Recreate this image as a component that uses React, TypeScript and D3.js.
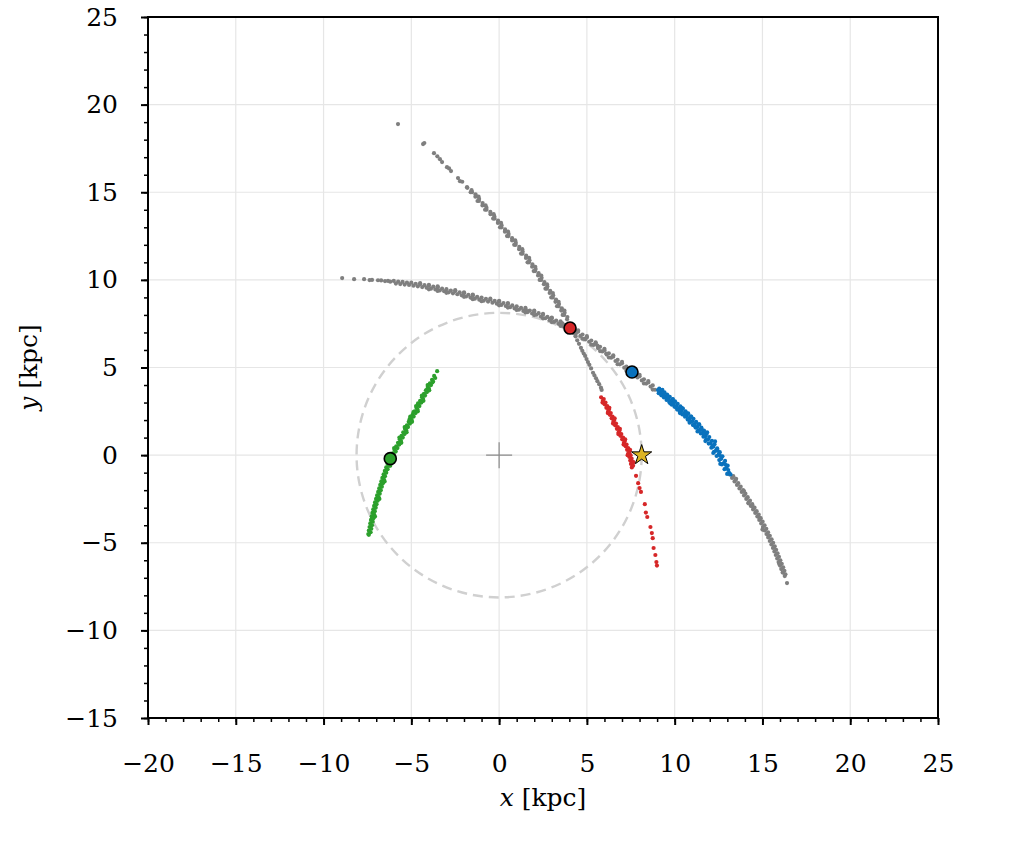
import { useEffect, useRef } from "react"
import * as d3 from "d3"

type Pt = [number, number]

// axes
const xDomain: [number, number] = [-20, 25]
const yDomain: [number, number] = [-15, 25]
const xTicks = [-20, -15, -10, -5, 0, 5, 10, 15, 20, 25]
const yTicks = [-15, -10, -5, 0, 5, 10, 15, 20, 25]

// reference points (kpc)
const solarRadius = 8.12
const sunPos: Pt = [8.12, 0]
const galCenter: Pt = [0, 0]
const redProgenitor: Pt = [4.04, 7.25]
const blueProgenitor: Pt = [7.57, 4.74]
const greenProgenitor: Pt = [-6.2, -0.2]

// long grey arc (leading part coloured blue below)
const greyStreamA: Pt[] = [
  [-8.94, 10.1], [-8.26, 10.04], [-7.69, 10.04], [-7.38, 9.99], [-7.24, 10.0], [-6.9, 9.98], [-6.72, 9.97],
  [-6.5, 9.93], [-6.33, 9.94], [-6.2, 9.9],
  [-6.0, 9.94], [-5.75, 9.9], [-5.5, 9.89], [-5.25, 9.85], [-5.0, 9.84], [-4.75, 9.78], [-4.5, 9.76],
  [-4.25, 9.7], [-4.0, 9.67], [-3.75, 9.61], [-3.5, 9.58], [-3.25, 9.5], [-3.0, 9.47], [-2.75, 9.39],
  [-2.5, 9.36], [-2.25, 9.29], [-2.0, 9.24], [-1.75, 9.15], [-1.5, 9.11], [-1.25, 9.03], [-1.0, 8.99],
  [-0.75, 8.92], [-0.5, 8.88], [-0.25, 8.8], [0.0, 8.76], [0.25, 8.68], [0.5, 8.63], [0.75, 8.54],
  [1.0, 8.49], [1.25, 8.4], [1.5, 8.35], [1.75, 8.25], [2.0, 8.2], [2.25, 8.1], [2.5, 8.01], [2.75, 7.89],
  [3.0, 7.8], [3.25, 7.68], [3.5, 7.58], [3.75, 7.44], [4.0, 7.35],
  [-5.88, 9.79], [-5.63, 9.76], [-5.38, 9.73], [-5.13, 9.71], [-4.88, 9.67], [-4.63, 9.63], [-4.38, 9.59],
  [-4.13, 9.55], [-3.88, 9.5], [-3.63, 9.45], [-3.38, 9.4], [-3.13, 9.35], [-2.88, 9.29], [-2.63, 9.23],
  [-2.38, 9.18], [-2.13, 9.12], [-1.88, 9.05], [-1.63, 8.99], [-1.38, 8.93], [-1.13, 8.87], [-0.88, 8.81],
  [-0.63, 8.76], [-0.38, 8.7], [-0.13, 8.64], [0.13, 8.57], [0.38, 8.51], [0.63, 8.44], [0.88, 8.37],
  [1.13, 8.3], [1.38, 8.23], [1.63, 8.16], [1.88, 8.08], [2.13, 8.01], [2.38, 7.91], [2.63, 7.81],
  [2.88, 7.7], [3.13, 7.6], [3.38, 7.49], [3.63, 7.37], [3.88, 7.25], [4.13, 7.14],
  [-4.5, 9.81], [-3.5, 9.63], [-2.5, 9.41], [-1.5, 9.16], [-0.5, 8.93], [0.5, 8.68], [1.5, 8.4], [2.5, 8.06],
  [3.5, 7.63], [-4.0, 9.46], [-3.0, 9.26], [-2.0, 9.03], [-1.0, 8.78], [0.0, 8.55], [1.0, 8.28], [2.0, 7.99],
  [3.0, 7.59], [4.0, 7.14], [-4.0, 9.72], [-2.0, 9.29], [0.0, 8.81], [2.0, 8.25], [3.0, 7.85], [-3.5, 9.37],
  [-1.5, 8.9], [0.5, 8.42], [1.5, 8.14], [2.5, 7.8], [3.5, 7.37],
  [4.25, 7.2], [4.5, 7.04], [4.75, 6.88], [5.0, 6.71], [5.25, 6.54], [5.5, 6.36], [5.75, 6.18], [6.0, 5.99],
  [6.25, 5.81], [6.5, 5.62], [6.75, 5.43], [7.0, 5.24], [7.25, 5.05], [7.5, 4.86], [7.75, 4.68], [8.0, 4.5],
  [8.25, 4.33], [8.5, 4.15], [8.75, 3.98],
  [4.38, 6.96], [4.63, 6.8], [4.88, 6.64], [5.13, 6.47], [5.38, 6.29], [5.63, 6.11], [5.88, 5.92],
  [6.13, 5.74], [6.38, 5.56], [6.63, 5.37], [6.88, 5.18], [7.13, 4.99], [7.38, 4.8], [7.63, 4.61],
  [7.88, 4.43], [8.13, 4.26], [8.38, 4.08], [8.63, 3.91], [8.88, 3.73],
  [4.4, 7.08], [4.9, 6.6], [5.6, 6.25], [6.1, 5.8], [3.6, 7.52], [2.9, 7.78], [1.6, 8.22],
  [4.5, 7.12], [5.0, 6.79], [5.5, 6.44], [6.0, 6.07], [6.5, 5.7], [7.0, 5.32], [8.0, 4.58], [8.5, 4.23],
  [4.75, 6.64], [5.25, 6.3], [5.75, 5.94], [6.25, 5.57], [6.75, 5.19], [7.25, 4.81], [8.25, 4.09], [8.75, 3.74],
  [13.13, -1.1], [13.27, -1.3], [13.41, -1.5], [13.55, -1.7], [13.69, -1.9], [13.82, -2.1], [13.95, -2.3],
  [14.08, -2.5], [14.21, -2.7], [14.34, -2.9], [14.47, -3.1], [14.59, -3.3], [14.71, -3.5], [14.82, -3.7],
  [14.93, -3.9], [15.03, -4.1], [15.13, -4.3], [15.23, -4.5], [15.33, -4.7], [15.42, -4.9], [15.51, -5.1],
  [15.6, -5.3], [15.68, -5.5], [15.76, -5.7], [15.84, -5.9], [15.92, -6.1], [16.0, -6.3], [16.07, -6.5],
  [16.15, -6.7],
  [13.34, -1.2], [13.48, -1.4], [13.62, -1.6], [13.76, -1.8], [13.9, -2.0], [14.03, -2.2], [14.16, -2.4],
  [14.29, -2.6], [14.42, -2.8], [14.55, -3.0], [14.67, -3.2], [14.79, -3.4], [14.9, -3.6], [15.01, -3.8],
  [15.12, -4.0], [15.22, -4.2], [15.32, -4.4], [15.42, -4.6], [15.52, -4.8], [15.61, -5.0], [15.7, -5.2],
  [15.78, -5.4], [15.86, -5.6], [15.94, -5.8], [16.02, -6.0], [16.1, -6.2], [16.18, -6.4], [16.25, -6.6],
  [16.31, -6.8], [16.27, -6.9], [16.4, -7.3],
  [13.5, -1.35], [13.95, -2.05], [14.45, -2.95], [14.85, -3.6], [15.3, -4.55], [15.65, -5.25], [15.95, -6.2],
  [14.2, -2.75], [15.0, -4.25],
]

const blueStream: Pt[] = [
  [9.05, 3.71], [9.2, 3.59], [9.35, 3.47], [9.5, 3.34], [9.65, 3.21], [9.8, 3.08], [9.95, 2.94], [10.1, 2.8],
  [10.25, 2.66], [10.4, 2.52], [10.55, 2.38], [10.7, 2.23], [10.85, 2.08], [11.0, 1.93], [11.15, 1.77],
  [11.3, 1.61], [11.45, 1.44], [11.6, 1.26], [11.75, 1.08], [11.9, 0.89], [12.05, 0.69], [12.2, 0.48],
  [12.35, 0.26], [12.5, 0.03], [12.65, -0.21], [12.8, -0.46], [12.95, -0.73], [13.1, -1.01],
  [9.12, 3.8], [9.27, 3.68], [9.42, 3.58], [9.57, 3.45], [9.72, 3.33], [9.87, 3.18], [10.02, 3.07],
  [10.17, 2.93], [10.32, 2.79], [10.47, 2.65], [10.62, 2.5], [10.77, 2.38], [10.92, 2.21], [11.07, 2.07],
  [11.22, 1.9], [11.37, 1.76], [11.52, 1.57], [11.67, 1.4], [11.82, 1.21], [11.97, 1.03], [12.12, 0.82],
  [12.27, 0.62], [12.42, 0.39], [12.57, 0.17], [12.72, -0.07], [12.87, -0.33], [13.02, -0.6],
  [9.09, 3.53], [9.24, 3.41], [9.39, 3.29], [9.54, 3.15], [9.69, 3.03], [9.84, 2.88], [9.99, 2.76],
  [10.14, 2.6], [10.29, 2.48], [10.44, 2.32], [10.59, 2.19], [10.74, 2.03], [10.89, 1.89], [11.04, 1.72],
  [11.19, 1.57], [11.34, 1.4], [11.49, 1.24], [11.64, 1.05], [11.79, 0.88], [11.94, 0.66], [12.09, 0.42],
  [12.24, 0.18], [12.39, -0.05], [12.54, -0.28], [12.69, -0.53], [12.84, -0.8], [12.99, -1.07],
  [9.6, 3.38], [10.05, 2.75], [10.65, 2.4], [11.1, 1.7], [11.55, 1.45], [11.7, 1.25], [12.15, 0.55],
  [12.45, 0.25], [12.6, -0.05], [13.05, -0.85], [12.9, -0.55], [13.18, -1.1],
  [9.3, 3.72], [9.9, 3.2], [10.4, 2.7], [10.95, 2.18], [11.4, 1.75], [11.85, 1.3], [12.3, 0.78],
  [9.75, 2.95], [10.3, 2.4], [10.85, 1.85], [11.3, 1.35], [11.75, 0.8], [12.2, 0.12], [12.6, -0.5],
]

// second grey arc, crossing the first near the red progenitor
const greyStreamB: Pt[] = [
  [-5.76, 18.89], [-4.33, 17.75], [-4.26, 17.81], [-3.71, 17.23], [-3.52, 17.05], [-3.37, 16.89],
  [-3.25, 16.72], [-2.97, 16.43], [-2.85, 16.36], [-2.74, 16.21], [-2.34, 15.81], [-2.23, 15.63],
  [-2.1, 15.6], [-1.83, 15.29],
  [-1.81, 15.25], [-1.54, 15.0], [-1.35, 14.75], [-1.15, 14.5], [-0.95, 14.25], [-0.72, 14.0],
  [-0.49, 13.75], [-0.26, 13.5], [-0.07, 13.25], [0.13, 13.0], [0.33, 12.75], [0.53, 12.5], [0.74, 12.25],
  [0.94, 12.0], [1.14, 11.75], [1.33, 11.5], [1.53, 11.25], [1.7, 11.0], [1.88, 10.75], [2.05, 10.5],
  [2.22, 10.25], [2.39, 10.0], [2.55, 9.75], [2.72, 9.5], [2.88, 9.25], [3.05, 9.0], [3.21, 8.75],
  [3.38, 8.5], [3.54, 8.25], [3.7, 8.0], [3.87, 7.75],
  [-1.57, 15.12], [-1.34, 14.88], [-1.14, 14.62], [-0.94, 14.38], [-0.72, 14.12], [-0.5, 13.88],
  [-0.27, 13.62], [-0.06, 13.38], [0.14, 13.12], [0.34, 12.88], [0.54, 12.62], [0.74, 12.38],
  [0.95, 12.12], [1.15, 11.88], [1.34, 11.62], [1.54, 11.38], [1.73, 11.12], [1.9, 10.88], [2.08, 10.62],
  [2.25, 10.38], [2.42, 10.12], [2.58, 9.88], [2.75, 9.62], [2.91, 9.38], [3.08, 9.12], [3.24, 8.88],
  [3.41, 8.62], [3.57, 8.38], [3.73, 8.12], [3.89, 7.88],
  [-1.62, 15.0], [-1.23, 14.5], [-0.8, 14.0], [-0.34, 13.5], [0.05, 13.0], [0.45, 12.5], [0.86, 12.0],
  [1.25, 11.5], [1.62, 11.0], [1.97, 10.5], [2.31, 10.0], [2.64, 9.5], [2.97, 9.0], [3.3, 8.5], [3.62, 8.0],
  [-1.17, 14.75], [-0.77, 14.25], [-0.31, 13.75], [0.11, 13.25], [0.51, 12.75], [0.92, 12.25], [1.32, 11.75],
  [1.71, 11.25], [2.06, 10.75], [2.4, 10.25], [2.73, 9.75], [3.06, 9.25], [3.39, 8.75], [3.72, 8.25],
  [4.1, 7.4], [4.18, 7.15], [4.27, 6.95], [4.35, 6.78], [4.45, 6.55], [4.55, 6.35], [4.66, 6.12],
  [4.74, 5.95], [4.82, 5.8], [4.9, 5.66], [4.98, 5.48], [5.06, 5.31], [5.14, 5.15], [5.24, 4.95],
  [5.35, 4.7], [5.43, 4.55], [5.52, 4.38], [5.6, 4.22], [5.7, 4.05], [5.8, 3.85], [5.84, 3.72],
]

const redStream: Pt[] = [
  [5.81, 3.3], [5.91, 3.1], [6.01, 2.9], [6.11, 2.7], [6.21, 2.5], [6.31, 2.3], [6.41, 2.1], [6.51, 1.9],
  [6.61, 1.7], [6.71, 1.5], [6.81, 1.3], [6.91, 1.1], [7.01, 0.9], [7.11, 0.7], [7.21, 0.5], [7.29, 0.3],
  [7.36, 0.1], [7.42, -0.1], [7.47, -0.3], [7.51, -0.5], [7.56, -0.7],
  [5.96, 3.2], [6.06, 3.0], [6.16, 2.8], [6.26, 2.6], [6.36, 2.4], [6.46, 2.2], [6.56, 2.0], [6.66, 1.8],
  [6.76, 1.6], [6.86, 1.4], [6.96, 1.2], [7.06, 1.0], [7.16, 0.8], [7.26, 0.6], [7.35, 0.4], [7.43, 0.2],
  [7.49, 0.0], [7.55, -0.2], [7.59, -0.4], [7.63, -0.6],
  [5.89, 3.0], [6.19, 2.4], [6.49, 1.8], [6.79, 1.2], [7.09, 0.6], [7.32, 0.0],
  [6.28, 2.7], [6.58, 2.1], [6.88, 1.5], [7.18, 0.9], [7.46, 0.3], [7.66, -0.4],
  [7.8, -1.18], [7.92, -1.6], [8.0, -1.88], [8.08, -2.1], [8.3, -2.8], [8.36, -3.28], [8.44, -3.53],
  [8.62, -4.1], [8.7, -4.45], [8.75, -4.74], [8.8, -5.3], [8.9, -5.7], [8.96, -6.1], [8.99, -6.3],
]

const greenStream: Pt[] = [
  [-3.53, 4.79], [-3.7, 4.52],
  [-3.82, 4.3], [-3.94, 4.1], [-4.06, 3.9], [-4.17, 3.7], [-4.28, 3.5], [-4.39, 3.3], [-4.5, 3.1],
  [-4.6, 2.9], [-4.71, 2.7], [-4.82, 2.5], [-4.93, 2.3], [-5.04, 2.1], [-5.15, 1.9], [-5.25, 1.7],
  [-5.36, 1.5], [-5.46, 1.3], [-5.56, 1.1], [-5.66, 0.9], [-5.76, 0.7], [-5.86, 0.5], [-5.96, 0.3],
  [-6.06, 0.1], [-6.16, -0.1], [-6.26, -0.3], [-6.35, -0.5], [-6.43, -0.7], [-6.51, -0.9], [-6.58, -1.1],
  [-6.65, -1.3], [-6.71, -1.5], [-6.77, -1.7], [-6.83, -1.9], [-6.89, -2.1], [-6.95, -2.3], [-7.01, -2.5],
  [-7.07, -2.7], [-7.12, -2.9], [-7.17, -3.1], [-7.22, -3.3], [-7.26, -3.5], [-7.3, -3.7], [-7.34, -3.9],
  [-7.38, -4.1], [-7.42, -4.3], [-7.45, -4.5],
  [-3.64, 4.4], [-3.76, 4.2], [-3.88, 4.0], [-4.0, 3.8], [-4.11, 3.6], [-4.22, 3.4], [-4.33, 3.2],
  [-4.43, 3.0], [-4.54, 2.8], [-4.65, 2.6], [-4.76, 2.4], [-4.87, 2.2], [-4.98, 2.0], [-5.08, 1.8],
  [-5.19, 1.6], [-5.29, 1.4], [-5.39, 1.2], [-5.49, 1.0], [-5.59, 0.8], [-5.69, 0.6], [-5.79, 0.4],
  [-5.89, 0.2], [-5.99, 0.0], [-6.09, -0.2], [-6.19, -0.4], [-6.27, -0.6], [-6.35, -0.8], [-6.43, -1.0],
  [-6.5, -1.2], [-6.56, -1.4], [-6.62, -1.6], [-6.68, -1.8], [-6.74, -2.0], [-6.8, -2.2], [-6.86, -2.4],
  [-6.92, -2.6], [-6.98, -2.8], [-7.03, -3.0], [-7.08, -3.2], [-7.12, -3.4], [-7.16, -3.6], [-7.2, -3.8],
  [-7.24, -4.0], [-7.28, -4.2], [-7.32, -4.4], [-7.42, -4.55],
  [-3.8, 4.15], [-4.1, 3.75], [-4.35, 3.38], [-4.62, 2.95], [-4.88, 2.45], [-5.1, 2.05], [-5.35, 1.55],
  [-4.07, 4.0], [-4.4, 3.4], [-4.73, 2.8], [-5.06, 2.2], [-5.38, 1.6], [-5.68, 1.0], [-5.98, 0.4],
  [-3.98, 3.7], [-4.31, 3.1], [-4.63, 2.5], [-4.96, 1.9], [-5.27, 1.3], [-5.57, 0.7], [-6.2, -0.6],
  [-6.52, -1.5], [-6.82, -2.5], [-7.07, -3.5],
]

const GREY = "#7f7f7f"
const BLUE = "#0a72bd"
const RED = "#d62728"
const GREEN = "#2ca02c"
const GOLD = "#dcb424"
const FONT = "DejaVu Serif"

export default function App() {
  const svgRef = useRef<SVGSVGElement>(null)

  useEffect(() => {
    if (!svgRef.current) return
    const root = d3.select(svgRef.current)
    root.selectAll("*").remove()

    const W = 1015
    const H = 846
    const margin = { top: 17, right: 77, bottom: 128, left: 148 }
    const width = W - margin.left - margin.right
    const height = H - margin.top - margin.bottom

    root.attr("width", W).attr("height", H)
    const g = root.append("g").attr("transform", `translate(${margin.left},${margin.top})`)

    const x = d3.scaleLinear().domain(xDomain).range([0, width])
    const y = d3.scaleLinear().domain(yDomain).range([height, 0])

    // grid
    g.append("g")
      .selectAll("line")
      .data(xTicks)
      .enter()
      .append("line")
      .attr("x1", (d) => x(d))
      .attr("x2", (d) => x(d))
      .attr("y1", 0)
      .attr("y2", height)
      .attr("stroke", "#e6e6e6")
      .attr("stroke-width", 1.2)
    g.append("g")
      .selectAll("line")
      .data(yTicks)
      .enter()
      .append("line")
      .attr("y1", (d) => y(d))
      .attr("y2", (d) => y(d))
      .attr("x1", 0)
      .attr("x2", width)
      .attr("stroke", "#e6e6e6")
      .attr("stroke-width", 1.2)

    // solar circle
    g.append("ellipse")
      .attr("cx", x(galCenter[0]))
      .attr("cy", y(galCenter[1]))
      .attr("rx", x(solarRadius) - x(0))
      .attr("ry", y(0) - y(solarRadius))
      .attr("fill", "none")
      .attr("stroke", "#d0d0d0")
      .attr("stroke-width", 2.4)
      .attr("stroke-dasharray", "10,6")

    // galactic centre
    const cx0 = x(galCenter[0])
    const cy0 = y(galCenter[1])
    g.append("path")
      .attr("d", `M${cx0 - 13},${cy0}H${cx0 + 13}M${cx0},${cy0 - 13}V${cy0 + 13}`)
      .attr("stroke", "#8a8a8a")
      .attr("stroke-width", 1.2)

    const drawDots = (pts: Pt[], color: string) => {
      g.append("g")
        .selectAll("circle")
        .data(pts)
        .enter()
        .append("circle")
        .attr("cx", (d) => x(d[0]))
        .attr("cy", (d) => y(d[1]))
        .attr("r", 2.1)
        .attr("fill", color)
    }
    drawDots(greyStreamA, GREY)
    drawDots(greyStreamB, GREY)
    drawDots(blueStream, BLUE)
    drawDots(redStream, RED)
    drawDots(greenStream, GREEN)

    // progenitors
    const progs: [Pt, string][] = [
      [redProgenitor, RED],
      [blueProgenitor, BLUE],
      [greenProgenitor, GREEN],
    ]
    g.append("g")
      .selectAll("circle")
      .data(progs)
      .enter()
      .append("circle")
      .attr("cx", (d) => x(d[0][0]))
      .attr("cy", (d) => y(d[0][1]))
      .attr("r", 6)
      .attr("fill", (d) => d[1])
      .attr("stroke", "#000")
      .attr("stroke-width", 1.6)

    // sun
    g.append("path")
      .attr("d", d3.symbol(d3.symbolStar).size(125)())
      .attr("transform", `translate(${x(sunPos[0])},${y(sunPos[1])})`)
      .attr("fill", GOLD)
      .attr("stroke", "#000")
      .attr("stroke-width", 1)

    // axes
    const minorX = d3.range(xDomain[0], xDomain[1] + 1)
    const minorY = d3.range(yDomain[0], yDomain[1] + 1)

    const xMinor = g.append("g").attr("transform", `translate(0,${height})`)
      .call(d3.axisBottom(x).tickValues(minorX).tickSize(4).tickFormat(() => ""))
    xMinor.select(".domain").remove()
    xMinor.selectAll("line").attr("stroke-width", 1.5)

    const yMinor = g.append("g")
      .call(d3.axisLeft(y).tickValues(minorY).tickSize(4).tickFormat(() => ""))
    yMinor.select(".domain").remove()
    yMinor.selectAll("line").attr("stroke-width", 1.5)

    const xAxis = g.append("g").attr("transform", `translate(0,${height})`)
      .call(d3.axisBottom(x).tickValues(xTicks).tickSize(7).tickPadding(29))
    xAxis.select(".domain").remove()
    xAxis.selectAll("line").attr("stroke-width", 2)
    xAxis.selectAll("text").attr("font-family", FONT).attr("font-size", 25).attr("fill", "#000")

    const yAxis = g.append("g")
      .call(d3.axisLeft(y).tickValues(yTicks).tickSize(7).tickPadding(23))
    yAxis.select(".domain").remove()
    yAxis.selectAll("line").attr("stroke-width", 2)
    yAxis.selectAll("text").attr("font-family", FONT).attr("font-size", 25).attr("fill", "#000")

    // frame
    g.append("rect")
      .attr("width", width)
      .attr("height", height)
      .attr("fill", "none")
      .attr("stroke", "#000")
      .attr("stroke-width", 2)

    // labels
    const xl = root.append("text")
      .attr("x", margin.left + width / 2)
      .attr("y", 806)
      .attr("text-anchor", "middle")
      .attr("font-family", FONT)
      .attr("font-size", 25)
    xl.append("tspan").attr("font-style", "italic").text("x")
    xl.append("tspan").text(" [kpc]")

    const yl = root.append("text")
      .attr("transform", `translate(37,${margin.top + height / 2}) rotate(-90)`)
      .attr("text-anchor", "middle")
      .attr("font-family", FONT)
      .attr("font-size", 25)
    yl.append("tspan").attr("font-style", "italic").text("y")
    yl.append("tspan").text(" [kpc]")
  }, [])

  return (
    <svg
      ref={svgRef}
      style={{ position: "absolute", left: 0, top: 0, background: "#fff" }}
    />
  )
}
